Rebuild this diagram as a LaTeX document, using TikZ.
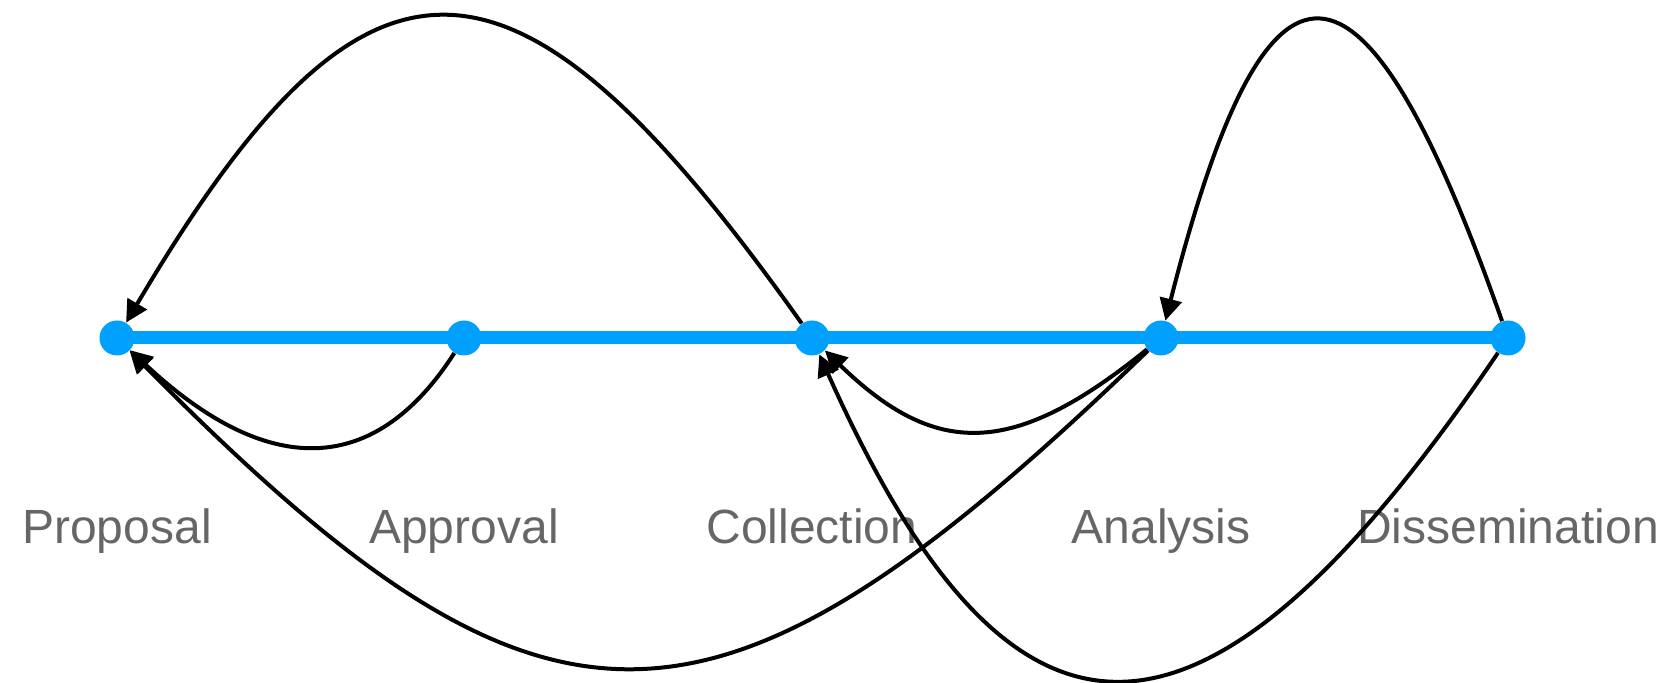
\documentclass[tikz,border=0pt]{standalone}
\usepackage{fontspec}
\setmainfont{Liberation Sans}
\usetikzlibrary{arrows.meta,backgrounds}
\definecolor{nodeblue}{RGB}{0,160,255}
\definecolor{labelgray}{RGB}{102,102,102}
\begin{document}
\begin{tikzpicture}[x=0.5pt,y=-0.5pt,
  dot/.style={circle,fill=nodeblue,inner sep=0pt,minimum size=17.5pt},
  lbl/.style={anchor=base,text=labelgray,font=\fontsize{24}{28}\selectfont},
  link/.style={draw=black,line width=2pt,-{Triangle[length=11pt,width=11pt]}},
  bar/.style={draw=nodeblue,line width=6.5pt}]
\useasboundingbox (0,0) rectangle (1663,683);
\node[lbl] (lp) at (117,543) {Proposal};
\node[lbl] (lap) at (464,543) {Approval};
\node[lbl] (lc) at (812,543) {Collection};
\node[lbl] (lan) at (1161,543) {Analysis};
\node[lbl] (ld) at (1508,543) {Dissemination};
\node[dot] (p) at (117,338) {};
\node[dot] (ap) at (464,338) {};
\node[dot] (c) at (812,338) {};
\node[dot] (an) at (1161,338) {};
\node[dot] (d) at (1508,338) {};
\begin{pgfonlayer}{background}
\draw[bar] (p.center) -- (ap.center) -- (c.center) -- (an.center) -- (d.center);
\end{pgfonlayer}
\draw[link] (c) .. controls +(-300,-423) and +(250,-423) .. (p);
\draw[link] (ap) .. controls +(-90,140) and +(150,140) .. (p);
\draw[link] (an) .. controls +(-148,120) and +(124,120) .. (c);
\draw[link] (an) .. controls +(-450,435) and +(430,435) .. (p);
\draw[link] (d) .. controls +(-147,-417) and +(106,-417) .. (an);
\draw[link] (d) .. controls +(-305,450) and +(201,450) .. (c);
\end{tikzpicture}
\end{document}
